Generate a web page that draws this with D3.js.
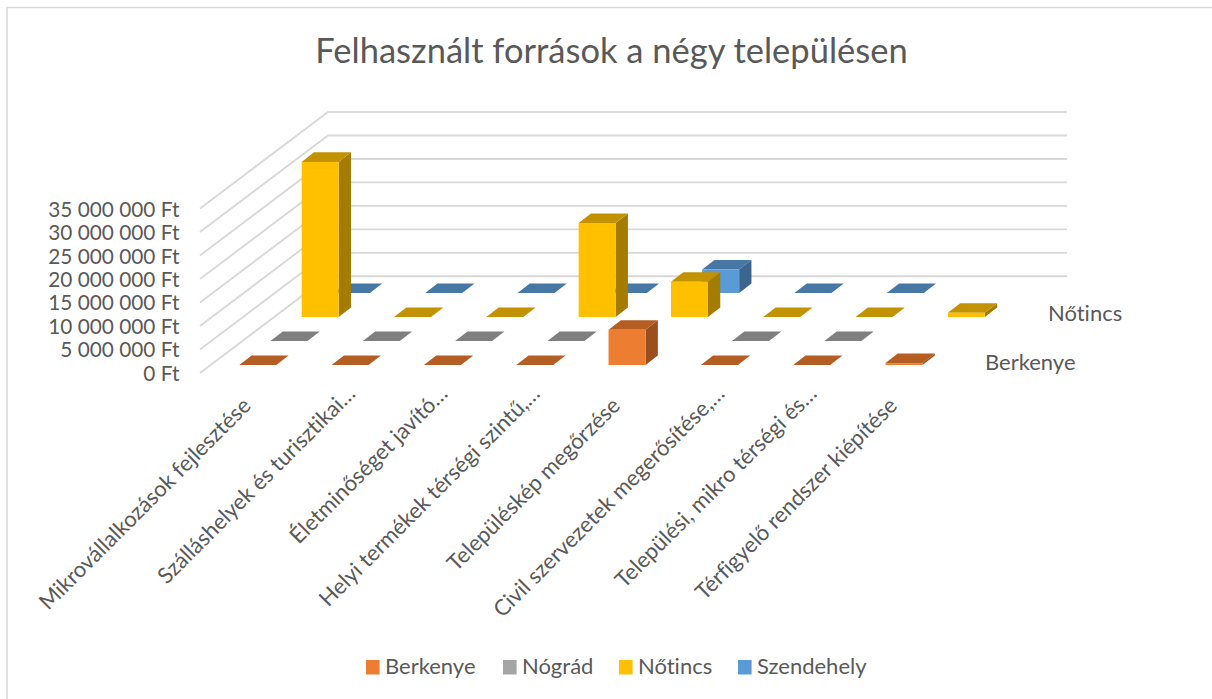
<!DOCTYPE html>
<html><head><meta charset="utf-8">
<script src="https://cdn.jsdelivr.net/npm/d3@7"></script>
<style>html,body{margin:0;padding:0;background:#fff;overflow:hidden}svg{display:block}text{font-family:Lato,"Open Sans",sans-serif;fill:#595959;font-variant-ligatures:none}</style>
</head><body><div id="chart"></div>
<script>
const titleText = "Felhasznált források a négy településen";
const categories = ["Mikrovállalkozások fejlesztése","Szálláshelyek és turisztikai…","Életminőséget javító…","Helyi termékek térségi szintű,…","Településkép megőrzése","Civil szervezetek megerősítése,…","Települési, mikro térségi és…","Térfigyelő rendszer kiépítése"];
const seriesNames = ["Berkenye","Nógrád","Nőtincs","Szendehely"];
const berkenye   = [0,0,0,0,7500000,0,0,400000];
const nograd     = [0,0,0,0,null,0,0,null];
const notincs    = [33000000,0,0,20000000,7500000,0,0,900000];
const szendehely = [0,0,0,0,5000000,0,0,null];
const valueTicks = [0,5000000,10000000,15000000,20000000,25000000,30000000,35000000];
const depthLabels = ["Berkenye","Nőtincs"];
const colors = {Berkenye:["#ED7D31","#B55E23","#9B4F1E"],"Nógrád":["#A5A5A5","#7F7F7F","#6C6C6C"],"Nőtincs":["#FFC000","#C29200","#A67C00"],Szendehely:["#5B9BD5","#4677A5","#3B658C"]};
const seriesValues = [berkenye,nograd,notincs,szendehely];

const W=1212,H=699;
const svg=d3.select("#chart").append("svg").attr("width",W).attr("height",H);
const DX=12.3,DY=-9.6,BW=37;

// border
svg.append("path").attr("d",`M7,${H}V7.5H${W}`).attr("fill","none").attr("stroke","#D9D9D9").attr("stroke-width",1.6);

svg.append("text").attr("x",611.5).attr("y",63).attr("text-anchor","middle").attr("font-size",34.5).attr("id","title").text(titleText);

// scales
const yBack=d3.scaleLinear().domain([0,35000000]).range([276.3,112]);
const yFront=d3.scaleLinear().domain([0,35000000]).range([373,208.5]);
const barH=d3.scaleLinear().domain([0,35000000]).range([0,164.5]);
const catX=d3.scalePoint().domain(categories).range([239.3,885.5]);
const serX=d3.scalePoint().domain(seriesNames).range([0,93.6]);
const serY=d3.scalePoint().domain(seriesNames).range([365,293]);

// gridlines
const grid=svg.append("g").attr("fill","none").attr("stroke","#D9D9D9").attr("stroke-width",1.9);
grid.selectAll("path").data(valueTicks).join("path")
  .attr("d",v=>`M200,${yFront(v)}L328,${yBack(v)}H1067`);

// value axis labels
const axisScale=d3.scaleLinear().domain([0,35000000]).range([373.5,209.5]);
const fmt=v=>d3.format(",")(v).replace(/,/g," ")+" Ft";
const ax=svg.append("g").attr("transform","translate(179.5,0)")
  .call(d3.axisLeft(axisScale).tickValues(valueTicks).tickFormat(fmt).tickSize(0).tickPadding(0));
ax.select(".domain").remove();
ax.attr("font-family",null).attr("font-size",null);
ax.selectAll("text").attr("font-size",20.8).style("fill","#595959");

// bars, back row first
const bars=svg.append("g");
const rows=seriesNames.map((s,i)=>({s,vals:seriesValues[i]})).reverse();
rows.forEach(r=>{
  const c=colors[r.s];
  const items=categories.map((cat,i)=>({cat,v:r.vals[i]})).filter(d=>d.v!==null);
  const g=bars.append("g").selectAll("g").data(items).join("g");
  const x0=d=>catX(d.cat)+serX(r.s), yb=serY(r.s), yt=d=>yb-barH(d.v);
  g.append("path").attr("fill",c[2]).attr("d",d=>`M${x0(d)+BW},${yb}l${DX},${DY}V${yt(d)+DY}L${x0(d)+BW},${yt(d)}Z`);
  g.append("path").attr("fill",c[1]).attr("d",d=>`M${x0(d)},${yt(d)}l${DX},${DY}h${BW}l${-DX},${-DY}Z`);
  g.append("rect").attr("fill",c[0]).attr("x",x0).attr("y",yt).attr("width",BW).attr("height",d=>barH(d.v));
});

// category labels: truncated ones reach further along the baseline
svg.append("g").selectAll("text").data(categories).join("text")
  .attr("class","cl").attr("text-anchor","end").attr("font-size",22)
  .attr("transform",d=>{
    const s=d.endsWith("…")?9:-3;
    return `translate(${catX(d)+16+s},${404-s}) rotate(-45)`;
  }).text(d=>d);

// depth labels
const depthX={Berkenye:985,"Nőtincs":1048};
svg.append("g").selectAll("text").data(depthLabels).join("text")
  .attr("x",d=>depthX[d]).attr("y",d=>d==="Berkenye"?370:321).attr("font-size",22).text(d=>d);

// legend
const legX={Berkenye:366,"Nógrád":503,"Nőtincs":619,Szendehely:738};
const leg=svg.append("g").selectAll("g").data(seriesNames).join("g").attr("transform",d=>`translate(${legX[d]},660)`);
leg.append("rect").attr("width",13.6).attr("height",14.5).attr("fill",d=>colors[d][0]);
leg.append("text").attr("x",19).attr("y",14).attr("font-size",22).text(d=>d);
</script></body></html>
